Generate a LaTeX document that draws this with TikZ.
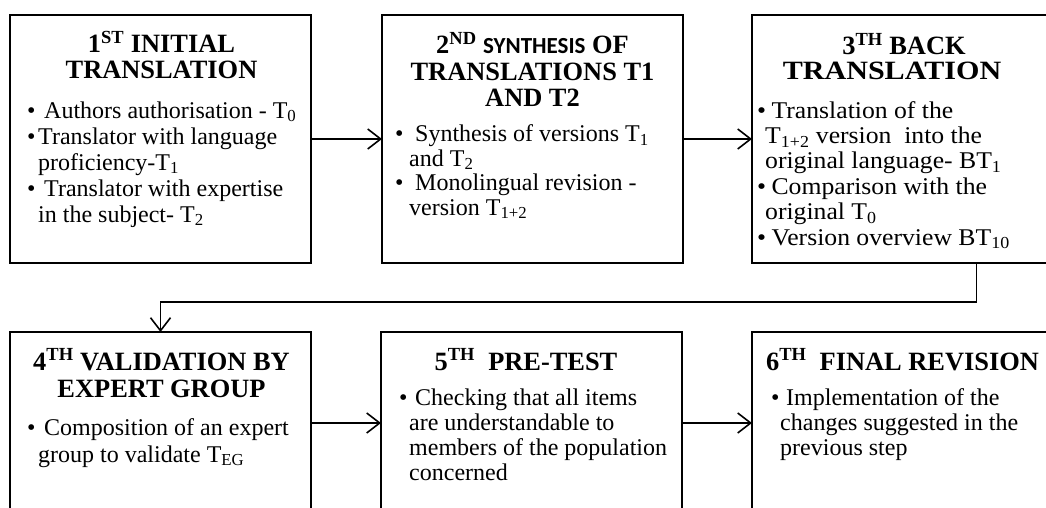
\documentclass[tikz,border=0pt]{standalone}
\usepackage{fontspec}
\setmainfont{Liberation Serif}
\newfontfamily\sansbold{Carlito}
\newfontfamily\widetitle{Liberation Serif}[FakeStretch=1.14]
\newfontfamily\widebody{Liberation Serif}[FakeStretch=1.07]
\usetikzlibrary{arrows.meta}

% bullet set in a box of given width; \ind gives the matching hanging indent
\newcommand\bul[1]{\makebox[#1][l]{\textbullet}}
\newcommand\ind[1]{\hspace*{#1}}

\begin{document}
\begin{tikzpicture}[x=1pt,y=1pt,
  stepbox/.style={draw, line width=1.6pt, minimum width=301pt, inner sep=0pt,
                  outer sep=0pt, anchor=north west},
  % text nodes are placed by the baseline of their last line
  headtext/.style={font=\fontsize{26.4}{#1}\selectfont\bfseries, align=center,
                   anchor=base, inner sep=0pt},
  headtext/.default=26.5,
  bodytext/.style={font=\fontsize{24}{#1}\selectfont, align=left,
                   anchor=base west, inner sep=0pt},
  bodytext/.default=25.5,
  link/.style={line width=1.6pt,
               -{Straight Barb[length=13pt,width=20pt,line width=1.6pt]}}
]
\useasboundingbox (0,0) rectangle (1046,-508);
\fill[white] (0,0) rectangle (1046,-508);

\begin{scope}
\clip (0,0) rectangle (1046,-508);

% upper row
\node[stepbox, minimum height=248pt] (b1) at (10,-15) {};
\node[stepbox, minimum height=248pt] (b2) at (382,-15) {};
\node[stepbox, minimum height=248pt] (b3) at (752,-15) {};
% lower row (runs off the bottom edge)
\node[stepbox, minimum height=182pt] (b4) at (10,-332) {};
\node[stepbox, minimum height=182pt] (b5) at (381,-332) {};
\node[stepbox, minimum height=182pt] (b6) at (752,-332) {};

% connectors
\draw[link] (b1.east) -- (b2.west);
\draw[link] (b2.east) -- (b3.west);
\draw[link] ([xshift=74pt]b3.south) -- ++(0,-39) -| (b4.north);
\draw[link] (b4.east) -- (b5.west);
\draw[link] (b5.east) -- (b6.west);
\end{scope}

% step 1
\node[headtext] (h1) at (161.5,-79) {1\textsuperscript{ST} INITIAL\\TRANSLATION};
\node[bodytext=26] (t1) at (27,-222) {%
  \bul{11pt}\ Authors authorisation - T\textsubscript{0}\\
  \bul{11pt}Translator with language\\
  \ind{11pt}proficiency-T\textsubscript{1}\\
  \bul{11pt}\ Translator with expertise\\
  \ind{11pt}in the subject- T\textsubscript{2}};

% step 2
\node[headtext] (h2) at (532.5,-107)
  {2\textsuperscript{ND} {\sansbold\fontsize{23}{26.5}\selectfont SYNTHESIS} OF\\
   TRANSLATIONS T1\\AND T2};
\node[bodytext=24.5] (t2) at (395,-215) {%
  \bul{14pt}\ Synthesis of versions T\textsubscript{1}\\
  \ind{14pt}and T\textsubscript{2}\\
  \bul{14pt}\ Monolingual revision -\\
  \ind{14pt}version T\textsubscript{1+2}};

% step 3
\node[headtext=25] (h3) at (892,-80)
  {\hspace*{24pt}3\textsuperscript{TH} BACK\\{\widetitle TRANSLATION}};
\node[bodytext=25.4, font=\widebody\fontsize{24}{25.4}\selectfont] (t3) at (757,-245) {%
  \bul{8pt}\ Translation of the\\
  \ind{8pt}T\textsubscript{1+2} version\ \ into the\\
  \ind{8pt}original language- BT\textsubscript{1}\\
  \bul{8pt}\ Comparison with the\\
  \ind{8pt}original T\textsubscript{0}\\
  \bul{8pt}\ Version overview BT\textsubscript{10}};

% step 4
\node[headtext=27] (h4) at (161.5,-397) {4\textsuperscript{TH} VALIDATION BY\\EXPERT GROUP};
\node[bodytext=27] (t4) at (27,-462) {%
  \bul{11pt}\ Composition of an expert\\
  \ind{11pt}group to validate T\textsubscript{EG}};

% step 5
\node[headtext] (h5) at (526,-370) {5\textsuperscript{TH}\ \ PRE-TEST};
\node[bodytext=25] (t5) at (399,-480) {%
  \bul{10pt}\ Checking that all items\\
  \ind{10pt}are understandable to\\
  \ind{10pt}members of the population\\
  \ind{10pt}concerned};

% step 6
\node[headtext] (h6) at (902.5,-370) {6\textsuperscript{TH}\ \ FINAL REVISION};
\node[bodytext=25] (t6) at (771,-455) {%
  \bul{9pt}\ Implementation of the\\
  \ind{9pt}changes suggested in the\\
  \ind{9pt}previous step};
\end{tikzpicture}
\end{document}
